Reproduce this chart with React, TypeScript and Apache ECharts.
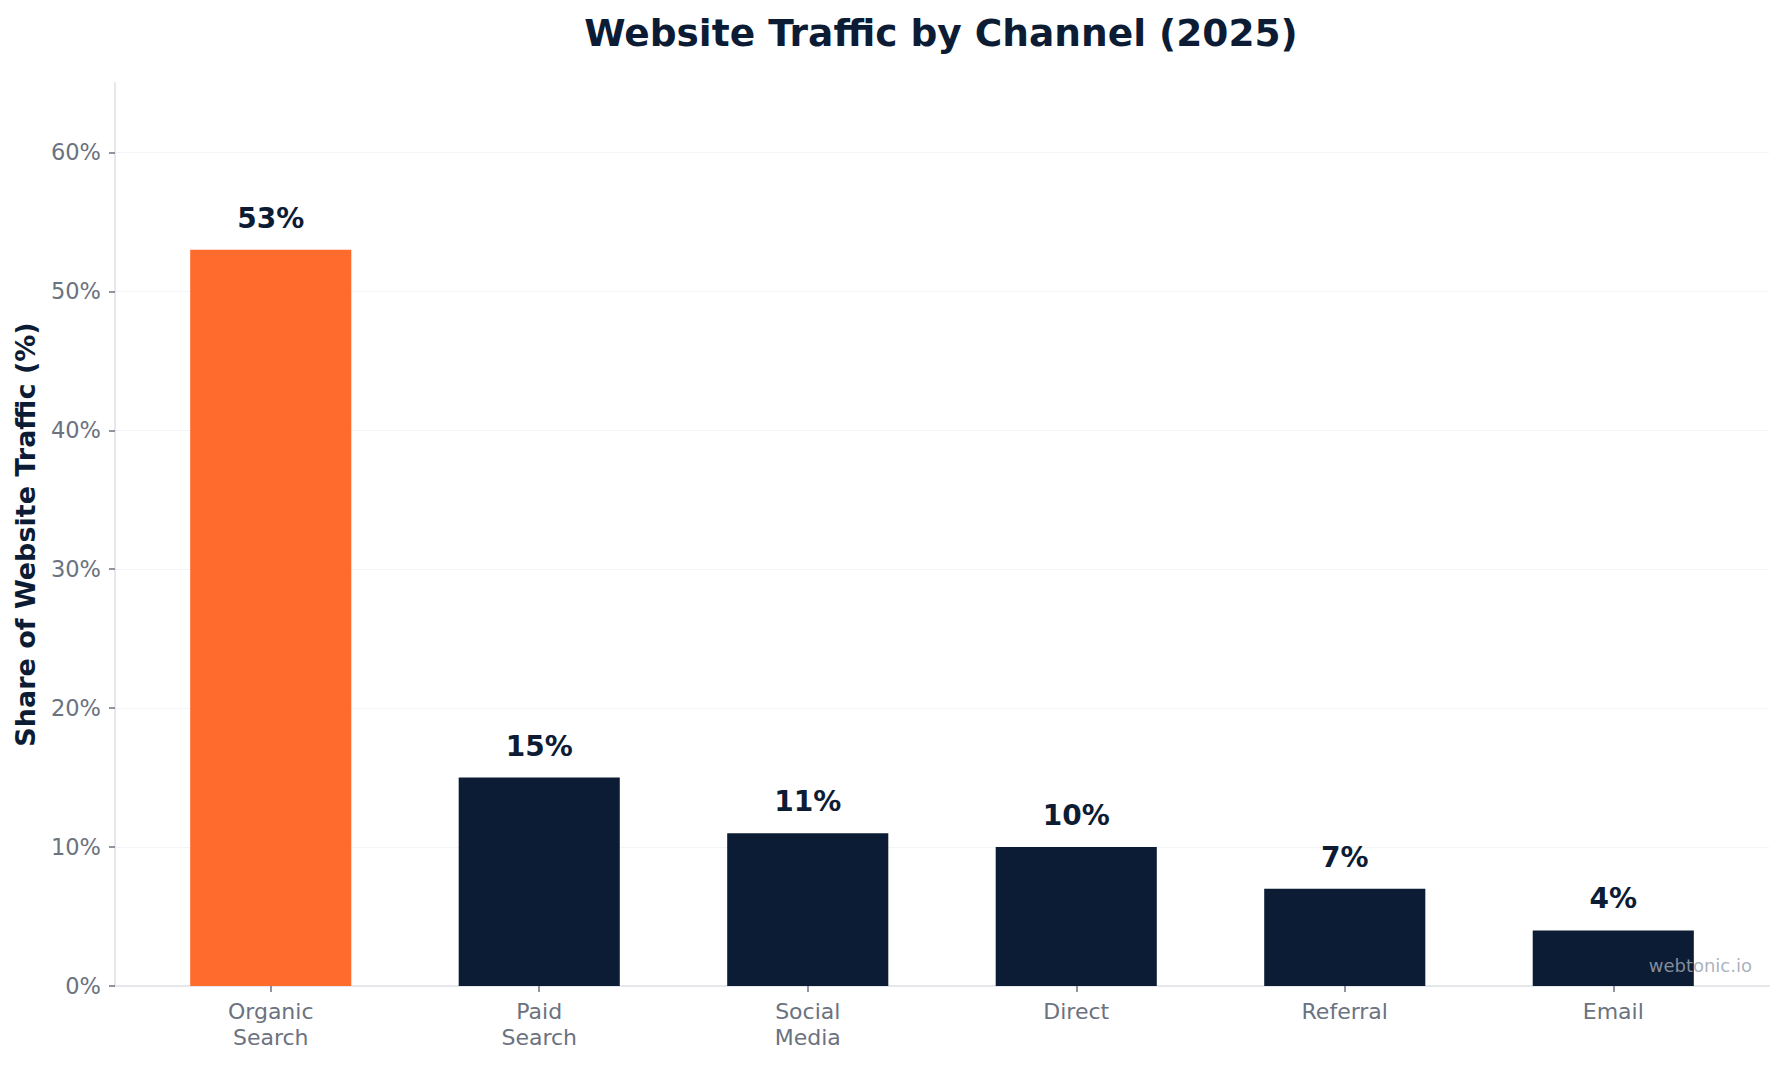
import React, { useEffect, useRef } from "react";
import * as echarts from "echarts";

// Channel shares of 2025 website traffic, in percent
const channels = ["Organic\nSearch", "Paid\nSearch", "Social\nMedia", "Direct", "Referral", "Email"];
const shares = [53, 15, 11, 10, 7, 4];
const yTicks = [0, 10, 20, 30, 40, 50, 60];

const NAVY = "#0d1c35";
const ORANGE = "#ff6b2c";
const GREY = "#6b7280";
const FONT = "DejaVu Sans, sans-serif";

export default function App() {
  const ref = useRef<HTMLDivElement>(null);

  useEffect(() => {
    document.body.style.margin = "0";
    const chart = echarts.init(ref.current!, null, { renderer: "svg" });
    const positions = channels.map((_, i) => i);

    chart.setOption({
      animation: false,
      backgroundColor: "#ffffff",
      textStyle: { fontFamily: FONT },
      title: {
        text: "Website Traffic by Channel (2025)",
        left: 936,
        top: 9,
        textAlign: "center",
        textStyle: { fontFamily: FONT, fontSize: 37.5, fontWeight: "bold", color: NAVY },
      },
      grid: { left: 115, right: 14, top: 83, bottom: 79, containLabel: false, outerBoundsMode: "none" },
      xAxis: {
        type: "value",
        min: -0.58,
        max: 5.58,
        axisLine: { show: true, onZero: false, lineStyle: { color: "#e5e7eb", width: 2 } },
        axisTick: { show: true, customValues: positions, length: 6, lineStyle: { color: GREY, width: 1.5 } },
        axisLabel: {
          customValues: positions,
          formatter: (v: number) => channels[Math.round(v)],
          color: GREY,
          fontFamily: FONT,
          fontSize: 22,
          lineHeight: 26,
          margin: 12,
        },
        splitLine: { show: false },
      },
      yAxis: {
        type: "value",
        min: 0,
        max: 65,
        name: "Share of Website Traffic (%)",
        nameLocation: "middle",
        nameGap: 76,
        nameTextStyle: { fontFamily: FONT, fontSize: 27, fontWeight: "bold", color: NAVY },
        axisLine: { show: true, onZero: false, lineStyle: { color: "#e5e7eb", width: 2 } },
        axisTick: { show: true, customValues: yTicks, length: 6, lineStyle: { color: GREY, width: 1.5 } },
        axisLabel: {
          customValues: yTicks,
          formatter: (v: number) => `${v}%`,
          color: GREY,
          fontFamily: FONT,
          fontSize: 22.5,
          margin: 14,
        },
        splitLine: { show: true, lineStyle: { color: "#f3f4f6", width: 1.2 } },
      },
      series: [
        {
          type: "bar",
          barWidth: "60%",
          data: shares.map((v, i) => ({
            value: [i, v],
            itemStyle: { color: i === 0 ? ORANGE : NAVY },
          })),
          label: {
            show: true,
            position: "top",
            distance: 17.5,
            formatter: (p: any) => `${p.value[1]}%`,
            fontFamily: FONT,
            fontSize: 28,
            fontWeight: "bold",
            color: NAVY,
          },
        },
      ],
      graphic: [
        {
          type: "text",
          right: 31,
          top: 956,
          z: 100,
          style: {
            text: "webtonic.io",
            fontFamily: FONT,
            fontSize: 18,
            fill: "#9ca3af",
            opacity: 0.85,
          },
        },
      ],
    });

    return () => chart.dispose();
  }, []);

  return <div ref={ref} style={{ width: 1783, height: 1065 }} />;
}
